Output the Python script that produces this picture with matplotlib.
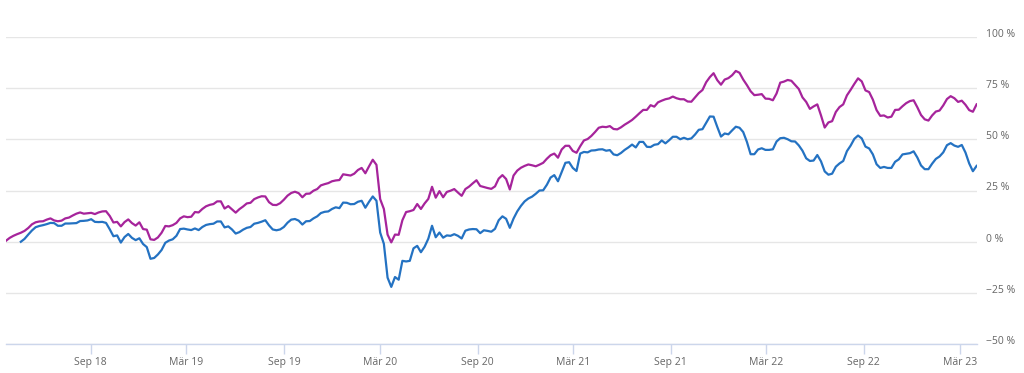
import matplotlib
matplotlib.use("Agg")
import matplotlib.pyplot as plt
import matplotlib.dates as mdates
from matplotlib.transforms import ScaledTranslation
import numpy as np
import pandas as pd

# weekly observations, starting 2018-03-25
start_date = "2018-03-25"
n_weeks = 263

purple_vals = [
    0.5, 1.9, 2.9, 3.7, 4.4, 5.3, 6.7, 8.5, 9.5, 9.9,
    10.0, 10.8, 11.4, 10.4, 10.0, 10.3, 11.4, 11.8, 12.8, 13.7,
    14.3, 13.7, 13.9, 14.1, 13.5, 14.3, 14.8, 14.9, 12.6, 9.4,
    9.7, 7.5, 9.6, 10.9, 9.1, 7.9, 9.5, 6.2, 5.9, 1.2,
    0.9, 2.1, 4.4, 7.7, 7.5, 8.1, 9.2, 11.4, 12.4, 12.0,
    12.2, 14.5, 14.3, 16.0, 17.3, 18.0, 18.4, 19.7, 19.7, 16.2,
    17.4, 15.8, 14.2, 15.9, 17.2, 18.7, 19.0, 20.8, 21.6, 22.2,
    22.1, 19.3, 18.0, 17.9, 18.8, 20.5, 22.5, 23.8, 24.4, 23.7,
    21.7, 23.4, 23.5, 24.9, 25.7, 27.5, 28.1, 28.6, 29.5, 29.9,
    30.1, 32.9, 32.6, 32.3, 33.2, 35.0, 36.0, 33.4, 36.8, 40.0,
    37.5, 20.8, 16.0, 3.5, -0.3, 3.5, 3.4, 10.5, 14.5, 14.9,
    15.5, 18.4, 16.0, 18.7, 20.9, 26.8, 21.5, 24.7, 21.7, 24.3,
    24.9, 25.7, 24.0, 22.4, 25.7, 26.9, 28.5, 30.0, 27.2, 26.7,
    26.2, 25.8, 27.0, 30.8, 32.5, 30.6, 25.5, 32.3, 34.7, 36.1,
    37.0, 37.7, 37.3, 36.8, 37.6, 38.5, 40.5, 42.2, 43.0, 41.0,
    45.0, 46.8, 46.8, 44.3, 43.4, 46.6, 49.4, 50.1, 51.6, 53.5,
    55.6, 56.1, 55.9, 56.4, 55.0, 54.8, 55.8, 57.1, 58.2, 59.4,
    61.0, 62.7, 64.3, 64.3, 66.6, 65.9, 68.0, 68.8, 69.5, 69.9,
    70.8, 70.0, 69.5, 69.5, 68.4, 68.3, 70.4, 72.5, 74.0, 77.8,
    80.3, 82.2, 78.8, 76.6, 79.1, 79.8, 81.2, 83.3, 82.4, 79.1,
    76.4, 73.4, 71.5, 71.7, 72.0, 69.8, 69.7, 69.0, 72.3, 77.6,
    78.1, 78.9, 78.5, 76.5, 74.5, 70.4, 68.2, 64.8, 66.0, 67.0,
    61.6, 55.7, 58.2, 58.8, 63.3, 65.7, 67.0, 71.4, 74.1, 77.0,
    79.7, 78.2, 73.8, 73.0, 69.3, 64.2, 61.4, 61.6, 60.6, 61.0,
    64.3, 64.4, 66.1, 67.6, 68.6, 69.0, 65.6, 61.8, 59.7, 59.1,
    61.6, 63.5, 64.0, 66.5, 69.6, 71.0, 70.0, 68.2, 68.8, 66.8,
    64.2, 63.4, 67.0,
]

blue_vals = [
    np.nan, np.nan, np.nan, np.nan, 0.0, 1.4, 3.5, 5.5, 7.1, 7.7,
    8.1, 8.6, 9.2, 9.1, 7.8, 7.8, 8.9, 8.9, 9.0, 9.1,
    10.1, 10.2, 10.4, 11.0, 9.7, 9.6, 9.7, 9.2, 6.1, 2.7,
    3.1, -0.4, 2.3, 3.8, 1.9, 0.8, 1.7, -1.1, -2.6, -8.3,
    -7.9, -6.2, -4.0, -0.5, 0.6, 1.2, 2.9, 6.2, 6.4, 6.0,
    5.7, 6.5, 5.7, 7.2, 8.2, 8.6, 8.8, 9.9, 9.9, 7.0,
    7.5, 6.0, 4.0, 4.7, 5.9, 6.8, 7.2, 8.8, 9.2, 9.8,
    10.5, 8.0, 6.0, 5.6, 6.0, 7.2, 9.3, 10.8, 11.1, 10.3,
    8.4, 10.0, 10.1, 11.4, 12.4, 14.0, 14.6, 14.8, 16.0, 16.8,
    16.4, 19.1, 19.0, 18.3, 18.4, 19.5, 20.0, 16.6, 19.5, 22.1,
    20.0, 4.5, -1.0, -17.5, -22.0, -17.2, -18.5, -9.3, -9.6, -9.3,
    -3.2, -2.0, -5.1, -2.4, 1.5, 7.8, 2.2, 4.5, 2.0, 3.1,
    2.9, 3.7, 2.9, 1.6, 5.4, 6.0, 6.2, 6.1, 4.2, 5.6,
    5.3, 4.9, 6.3, 10.5, 12.4, 11.2, 6.8, 11.3, 14.8, 17.5,
    19.7, 21.1, 22.0, 23.4, 25.0, 25.1, 27.8, 31.3, 32.5, 29.5,
    34.0, 38.5, 38.8, 36.0, 34.5, 43.0, 43.8, 43.6, 44.5, 44.6,
    45.0, 45.1, 44.4, 44.7, 42.6, 42.2, 43.3, 44.8, 46.0, 47.4,
    46.0, 48.7, 48.7, 46.3, 46.2, 47.3, 47.6, 49.4, 48.0, 49.5,
    51.2, 51.2, 50.0, 50.7, 50.0, 50.4, 52.3, 54.6, 54.9, 58.0,
    61.1, 61.0, 56.0, 51.3, 52.8, 52.4, 54.3, 56.1, 55.6, 53.5,
    48.7, 42.7, 42.7, 45.0, 45.6, 44.8, 44.8, 45.1, 48.9, 50.5,
    50.7, 50.0, 49.0, 48.9, 47.0, 44.4, 40.7, 39.4, 39.6, 42.3,
    39.2, 34.3, 32.7, 33.2, 36.6, 38.2, 39.4, 44.2, 46.9, 50.2,
    51.8, 50.4, 46.4, 45.5, 42.6, 37.8, 36.0, 36.5, 36.0, 36.0,
    39.0, 40.2, 42.6, 42.9, 43.2, 44.1, 41.1, 37.2, 35.4, 35.4,
    38.1, 40.4, 41.6, 43.6, 47.1, 48.1, 46.9, 46.3, 47.2, 43.5,
    38.2, 34.4, 37.0,
]

y_ticks = [-50, -25, 0, 25, 50, 75, 100]
y_labels = ["\u221250 %", "\u221225 %", "0 %", "25 %", "50 %", "75 %", "100 %"]
x_tick_dates = ["2018-09-01", "2019-03-01", "2019-09-01", "2020-03-01", "2020-09-01",
                "2021-03-01", "2021-09-01", "2022-03-01", "2022-09-01", "2023-03-01"]
x_tick_labels = ["Sep 18", "M\u00e4r 19", "Sep 19", "M\u00e4r 20", "Sep 20",
                 "M\u00e4r 21", "Sep 21", "M\u00e4r 22", "Sep 22", "M\u00e4r 23"]

dates = pd.date_range(start_date, periods=n_weeks, freq="7D")

plt.rcParams['font.family'] = ['Open Sans', 'DejaVu Sans']

fig = plt.figure(figsize=(10.24, 3.73), dpi=100)
ax = fig.add_axes([6 / 1024, 1 - 344.3 / 373, 970.6 / 1024, (344.3 - 36.7) / 373])

ax.plot(dates, purple_vals, color="#a6249b", lw=1.6, solid_joinstyle="round", zorder=3)
ax.plot(dates, blue_vals, color="#2472c2", lw=1.6, solid_joinstyle="round", zorder=3)

ax.set_xlim(dates[0], dates[-1])
ax.set_ylim(-50, 100)

for s in ["top", "left", "right"]:
    ax.spines[s].set_visible(False)
ax.spines["bottom"].set_color("#ccd6eb")
ax.spines["bottom"].set_linewidth(1)

ax.set_yticks(y_ticks)
ax.set_yticklabels(y_labels)
ax.yaxis.tick_right()
ax.tick_params(axis="y", length=0, pad=7, labelsize=7.5, labelcolor="#666666")
ax.grid(axis="y", color="#e6e6e6", lw=1)
ax.set_axisbelow(True)
off = ScaledTranslation(0, 4 / 100, fig.dpi_scale_trans)
for lab in ax.get_yticklabels():
    lab.set_transform(lab.get_transform() + off)
    lab.set_horizontalalignment("left")

ax.set_xticks(pd.to_datetime(x_tick_dates))
ax.set_xticklabels(x_tick_labels)
ax.tick_params(axis="x", length=7, width=1, color="#ccd6eb", pad=2,
               labelsize=7.5, labelcolor="#666666")

fig.savefig("out.png", dpi=100)
